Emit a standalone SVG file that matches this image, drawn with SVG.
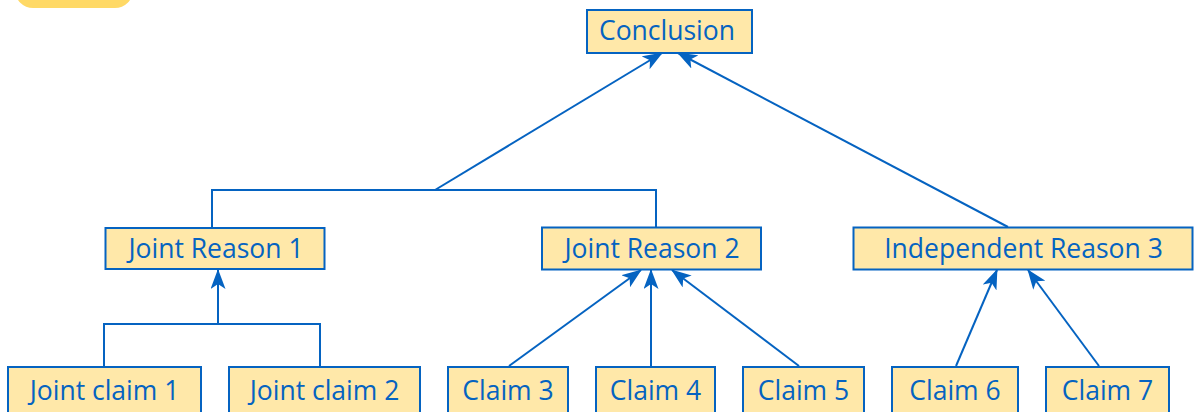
<svg xmlns="http://www.w3.org/2000/svg" width="1194" height="412" viewBox="0 0 1194 412">
  <style>
    .box { fill: #FFE8A9; stroke: #0563C1; stroke-width: 2; }
    .label { font-family: "Open Sans", "Noto Sans", sans-serif; font-size: 26.5px; fill: #0563C1; text-anchor: middle; }
    .edge { fill: none; stroke: #0563C1; stroke-width: 2; }
  </style>
  <defs>
    <marker id="arrow" viewBox="0 0 20 15" refX="19" refY="7.5" markerWidth="20" markerHeight="15" markerUnits="userSpaceOnUse" orient="auto">
      <path d="M0,0 L20,7.5 L0,15 L5,7.5 Z" fill="#0563C1"/>
    </marker>
  </defs>

  <!-- decorative tab at top left -->
  <rect x="15" y="-30" width="118" height="38" rx="18" fill="#FFD966"/>

  <g id="connectors">
    <!-- joint reasons 1 and 2 merge into the conclusion -->
    <path class="edge" d="M212,228 V190 H656 V227"/>
    <path class="edge" d="M435,190 L662,53" marker-end="url(#arrow)"/>
    <path class="edge" d="M1008,227 L678,53" marker-end="url(#arrow)"/>
    <!-- joint claims merge into joint reason 1 -->
    <path class="edge" d="M104,366 V324 H320 V366"/>
    <path class="edge" d="M218,324 V270" marker-end="url(#arrow)"/>
    <!-- claims into joint reason 2 -->
    <path class="edge" d="M509,366 L641,270" marker-end="url(#arrow)"/>
    <path class="edge" d="M651,366 V270" marker-end="url(#arrow)"/>
    <path class="edge" d="M799,366 L672,270" marker-end="url(#arrow)"/>
    <!-- claims into independent reason 3 -->
    <path class="edge" d="M956,366 L997,270" marker-end="url(#arrow)"/>
    <path class="edge" d="M1099,366 L1028,270" marker-end="url(#arrow)"/>
  </g>

  <g id="conclusion">
    <rect class="box" x="587" y="10" width="165" height="43"/>
    <text class="label" x="667" y="40">Conclusion</text>
  </g>
  <g id="joint-reason-1">
    <rect class="box" x="105.5" y="228" width="219" height="41"/>
    <text class="label" x="216" y="257.5">Joint Reason 1</text>
  </g>
  <g id="joint-reason-2">
    <rect class="box" x="542" y="227.5" width="219" height="42"/>
    <text class="label" x="652" y="257.5">Joint Reason 2</text>
  </g>
  <g id="independent-reason-3">
    <rect class="box" x="853.5" y="227.5" width="339" height="42"/>
    <text class="label" x="1023.5" y="257.5">Independent Reason 3</text>
  </g>
  <g id="joint-claim-1">
    <rect class="box" x="8" y="367" width="193" height="52"/>
    <text class="label" x="104.5" y="400">Joint claim 1</text>
  </g>
  <g id="joint-claim-2">
    <rect class="box" x="229" y="367" width="191" height="52"/>
    <text class="label" x="324.5" y="400">Joint claim 2</text>
  </g>
  <g id="claim-3">
    <rect class="box" x="448" y="367" width="120" height="52"/>
    <text class="label" x="508" y="400">Claim 3</text>
  </g>
  <g id="claim-4">
    <rect class="box" x="596" y="367" width="119" height="52"/>
    <text class="label" x="655.5" y="400">Claim 4</text>
  </g>
  <g id="claim-5">
    <rect class="box" x="743" y="367" width="121" height="52"/>
    <text class="label" x="803.5" y="400">Claim 5</text>
  </g>
  <g id="claim-6">
    <rect class="box" x="892" y="367" width="126" height="52"/>
    <text class="label" x="955" y="400">Claim 6</text>
  </g>
  <g id="claim-7">
    <rect class="box" x="1046" y="367" width="123" height="52"/>
    <text class="label" x="1107.5" y="400">Claim 7</text>
  </g>
</svg>
